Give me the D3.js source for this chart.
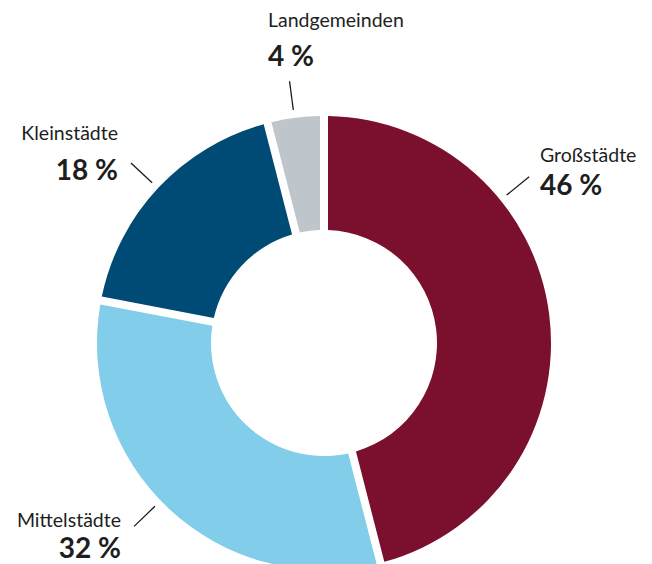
<!DOCTYPE html>
<html><head><meta charset="utf-8">
<script src="https://cdn.jsdelivr.net/npm/d3@7"></script>
<style>body{margin:0;background:#fff}svg{display:block}</style>
</head><body>
<svg id="c" width="652" height="564"></svg>
<script>
const categories = ["Großstädte", "Mittelstädte", "Kleinstädte", "Landgemeinden"];
const values = [46, 32, 18, 4];
const valueLabels = ["46 %", "32 %", "18 %", "4 %"];
const colors = ["#7a0f2e", "#82cdea", "#004b76", "#bec6cc"];
// leader line angles (degrees, clockwise from top) and label placement
const leaderAngles = [51, -134, -47, -7.5];
const labelPos = [
  {x: 540, y1: 162, y2: 195, anchor: "start"},
  {x: 121, y1: 527, y2: 558, anchor: "end"},
  {x: 118, y1: 140, y2: 180, anchor: "end"},
  {x: 268, y1: 27, y2: 66, anchor: "start"}
];

const svg = d3.select("#c");
const cx = 324, cy = 343, R = 227, r0 = 113;
const g = svg.append("g").attr("transform", `translate(${cx},${cy})`);

const pie = d3.pie().sort(null).value(d => d)(values);
const arc = d3.arc().innerRadius(r0).outerRadius(R).padRadius(R).padAngle(8 / R);

g.selectAll("path").data(pie).join("path")
  .attr("d", arc)
  .attr("fill", (d, i) => colors[i]);

const rad = d3.scaleLinear().domain([0, 360]).range([0, 2 * Math.PI]);
leaderAngles.forEach(a => {
  const t = rad(a);
  g.append("line")
    .attr("x1", Math.sin(t) * 235).attr("y1", -Math.cos(t) * 235)
    .attr("x2", Math.sin(t) * 264).attr("y2", -Math.cos(t) * 264)
    .attr("stroke", "#1a1a1a").attr("stroke-width", 1.3);
});

categories.forEach((c, i) => {
  const p = labelPos[i];
  svg.append("text").attr("x", p.x).attr("y", p.y1)
    .attr("text-anchor", p.anchor)
    .attr("font-family", "Lato, 'Noto Sans', sans-serif")
    .attr("font-size", 19.5).attr("fill", "#1e1e1e").text(c);
  svg.append("text").attr("x", p.x).attr("y", p.y2)
    .attr("text-anchor", p.anchor)
    .attr("font-family", "Lato, 'Noto Sans', sans-serif")
    .attr("font-weight", "bold")
    .attr("font-size", 28).attr("fill", "#1e1e1e").text(valueLabels[i]);
});
</script>
</body></html>
